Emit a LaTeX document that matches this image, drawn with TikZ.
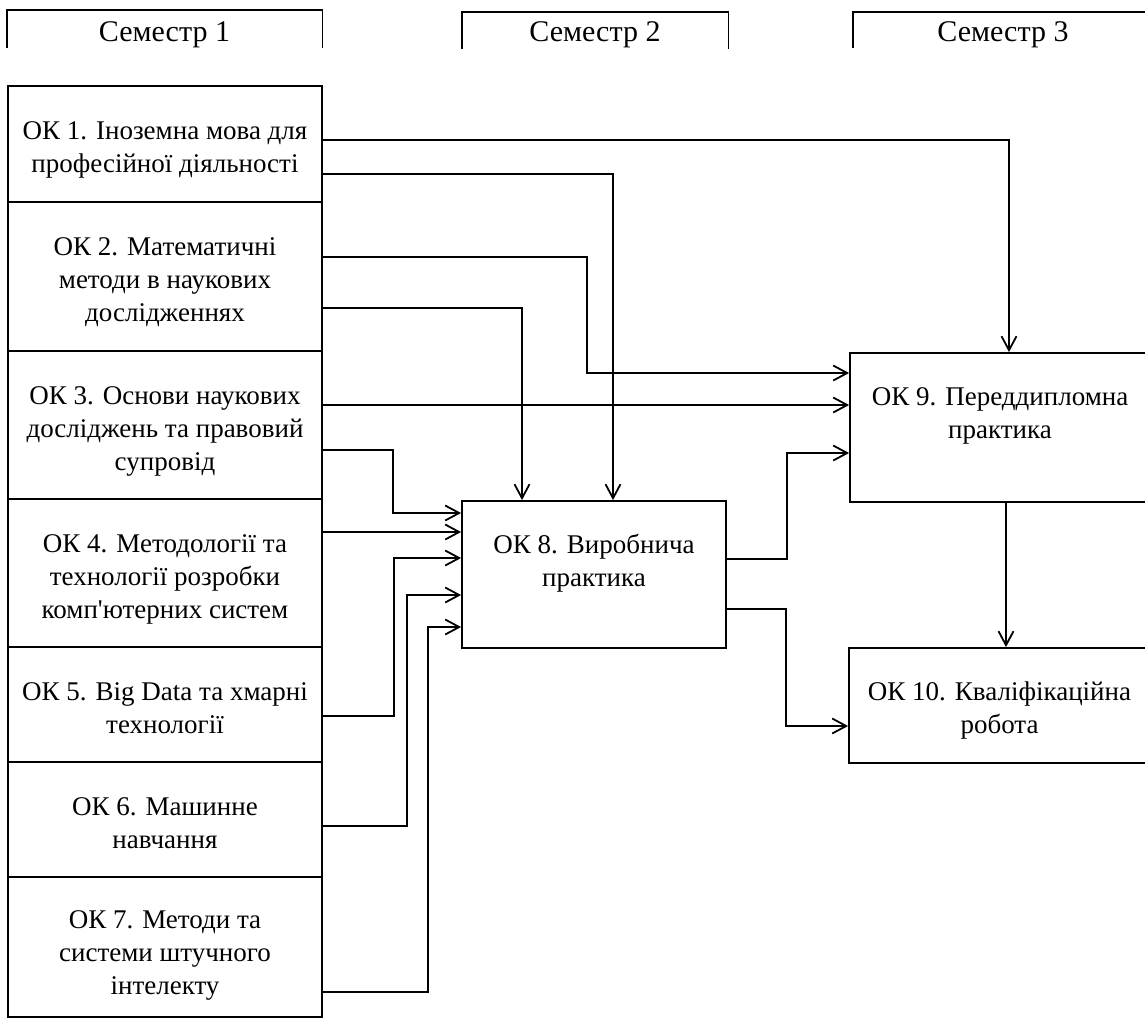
\documentclass[tikz,border=0pt]{standalone}
\usepackage{fontspec}
\setmainfont{Liberation Serif}
\usetikzlibrary{arrows.meta}
\tikzset{
  kbox/.style={draw,line width=0.9pt,align=center,inner sep=0pt,text depth=3pt,font=\fontsize{13.5pt}{16.5pt}\selectfont},
  shead/.style={align=center,inner sep=0pt,font=\fontsize{15pt}{18pt}\selectfont},
  link/.style={line width=0.9pt,-{Straight Barb[length=7pt,width=7.5pt,line width=0.9pt]}},
}

\begin{document}
\begin{tikzpicture}[x=0.5pt,y=-0.5pt]
        \useasboundingbox (0,0) rectangle (1145,1019);
        \clip (0,0) rectangle (1145,1019);
        \fill[white] (0,0) rectangle (1145,1019);
        % semesters
        \node[shead,minimum width=157.5pt] (S1) at (164.5,35) {Семестр 1};
        \node[shead,minimum width=133pt] (S2) at (595,35) {Семестр 2};
        \node[shead,minimum width=150pt] (S3) at (1003,35) {Семестр 3};
        \draw[line width=0.9pt] (S1.west |- 0,48) -- (S1.west |- 0,10) -- (S1.east |- 0,10) -- (S1.east |- 0,48);
        \draw[line width=0.9pt] (S2.west |- 0,49) -- (S2.west |- 0,12) -- (S2.east |- 0,12) -- (S2.east |- 0,49);
        \draw[line width=0.9pt] (S3.west |- 0,48) -- (S3.west |- 0,12) -- (S3.east |- 0,12) -- (S3.east |- 0,48);
        % semester 1
        \node[kbox,minimum width=157pt,minimum height=58pt,text height=31.5pt] (K1) at (165,144) {ОК 1. Іноземна мова для\\професійної діяльності};
        \node[kbox,minimum width=157pt,minimum height=74.5pt,text height=48pt] (K2) at (165,276.5) {ОК 2. Математичні\\методи в наукових\\дослідженнях};
        \node[kbox,minimum width=157pt,minimum height=74pt,text height=48.5pt] (K3) at (165,425) {ОК 3. Основи наукових\\досліджень та правовий\\супровід};
        \node[kbox,minimum width=157pt,minimum height=74pt,text height=48pt] (K4) at (165,573) {ОК 4. Методології та\\технології розробки\\комп\textquotesingle ютерних систем};
        \node[kbox,minimum width=157pt,minimum height=57.5pt,text height=31.5pt] (K5) at (165,704.5) {ОК 5. Big Data та хмарні\\технології};
        \node[kbox,minimum width=157pt,minimum height=57.5pt,text height=31.5pt] (K6) at (165,819.5) {ОК 6. Машинне\\навчання};
        \node[kbox,minimum width=157pt,minimum height=70pt,text height=50pt] (K7) at (165,947) {ОК 7. Методи та\\системи штучного\\інтелекту};
        % semesters 2 and 3
        \node[kbox,minimum width=132pt,minimum height=73.5pt,text height=25.5pt,text depth=13.5pt] (K8) at (594,574.5) {ОК 8. Виробнича\\практика};
        \node[kbox,minimum width=150pt,minimum height=74.5pt,text height=25.5pt,text depth=14.5pt] (K9) at (1000,427.5) {ОК 9. Переддипломна\\практика};
        \node[kbox,minimum width=150.5pt,minimum height=57.5pt,text height=31pt] (K10) at (999.5,705.5) {ОК 10. Кваліфікаційна\\робота};
        % links
        \draw[link] (K1.east |- 0,140) -| (1009,0 |- K9.north);
        \draw[link] (K1.east |- 0,174) -| (613,0 |- K8.north);
        \draw[link] (K2.east |- 0,257) -| (587,373) -- (K9.west |- 0,373);
        \draw[link] (K2.east |- 0,308) -| (522,0 |- K8.north);
        \draw[link] (K3.east |- 0,405) -- (K9.west |- 0,405);
        \draw[link] (K3.east |- 0,450) -| (393,513) -- (K8.west |- 0,513);
        \draw[link] (K4.east |- 0,532) -- (K8.west |- 0,532);
        \draw[link] (K5.east |- 0,716) -| (394,558) -- (K8.west |- 0,558);
        \draw[link] (K6.east |- 0,826) -| (407,595) -- (K8.west |- 0,595);
        \draw[link] (K7.east |- 0,992) -| (428,627) -- (K8.west |- 0,627);
        \draw[link] (K8.east |- 0,559) -| (787,453) -- (K9.west |- 0,453);
        \draw[link] (K8.east |- 0,609) -| (786,726) -- (K10.west |- 0,726);
        \draw[link] (1006,0 |- K9.south) -- (1006,0 |- K10.north);
      \end{tikzpicture}
\end{document}
